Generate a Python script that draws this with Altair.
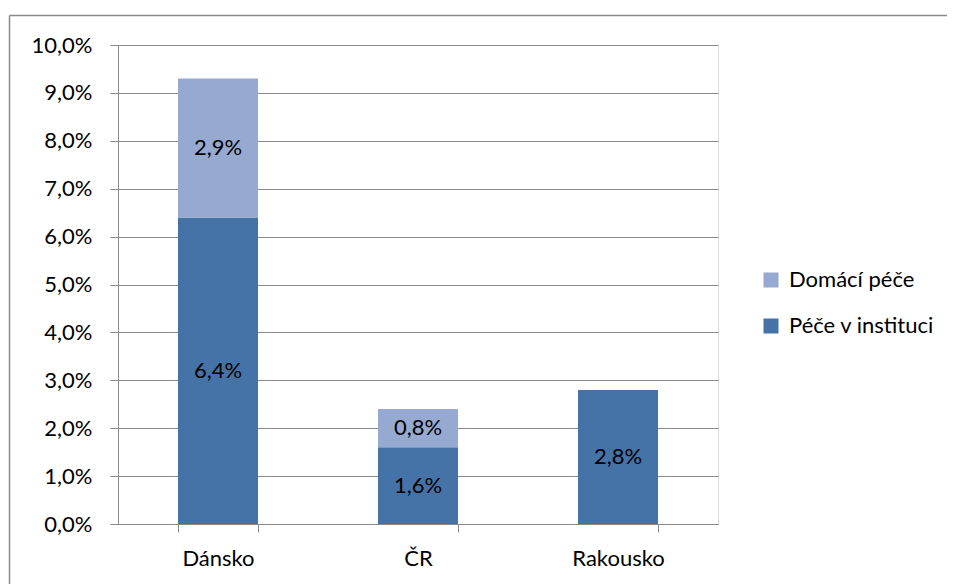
import altair as alt
import pandas as pd

zeme = ["Dánsko", "ČR", "Rakousko"]
pece_v_instituci = [0.064, 0.016, 0.028]
domaci_pece = [0.029, 0.008, None]
serie = ["Domácí péče", "Péče v instituci"]
barvy = ["#95A9D1", "#4572A7"]
y_ticks = [0.0, 0.01, 0.02, 0.03, 0.04, 0.05, 0.06, 0.07, 0.08, 0.09, 0.10]

rows = []
for z, a, b in zip(zeme, pece_v_instituci, domaci_pece):
    rows.append({"zeme": z, "serie": "Péče v instituci", "hodnota": a, "poradi": 0})
    if b is not None:
        rows.append({"zeme": z, "serie": "Domácí péče", "hodnota": b, "poradi": 1})
df = pd.DataFrame(rows)

FONT = "Lato"
GRAY = "#8A8A8A"

x_enc = alt.X(
    "zeme:N",
    sort=zeme,
    title=None,
    scale=alt.Scale(paddingInner=0.6, paddingOuter=0.3),
    axis=alt.Axis(
        labelAngle=0, tickBand="extent", tickSize=8, tickColor=GRAY,
        domainColor=GRAY, labelFont=FONT, labelFontSize=22, labelColor="black",
        labelPadding=16, grid=False,
    ),
)

bars = alt.Chart(df).mark_bar().encode(
    x=x_enc,
    y=alt.Y(
        "hodnota:Q",
        stack="zero",
        title=None,
        scale=alt.Scale(domain=[0, 0.1], nice=False),
        axis=alt.Axis(
            values=y_ticks, labelExpr="replace(format(datum.value, '.1%'), '.', ',')",
            tickSize=8, tickColor=GRAY, domainColor=GRAY, gridColor=GRAY,
            labelFont=FONT, labelFontSize=22, labelColor="black", labelPadding=18,
        ),
    ),
    color=alt.Color(
        "serie:N",
        scale=alt.Scale(domain=serie, range=barvy),
        legend=alt.Legend(
            title=None, orient="none", legendX=642, legendY=224, padding=0,
            symbolType="square", symbolSize=225, symbolStrokeWidth=0,
            labelFont=FONT, labelFontSize=22, labelColor="black",
            rowPadding=24, labelOffset=7,
        ),
    ),
    order=alt.Order("poradi:Q"),
)

labels = alt.Chart(df).transform_stack(
    stack="hodnota", groupby=["zeme"], as_=["y0", "y1"],
    sort=[alt.SortField("poradi", order="ascending")],
).transform_calculate(
    mid="(datum.y0 + datum.y1) / 2",
    txt="replace(format(datum.hodnota, '.1%'), '.', ',')",
).mark_text(font=FONT, fontSize=22, color="black", baseline="middle").encode(
    x=alt.X("zeme:N", sort=zeme),
    y=alt.Y("mid:Q"),
    text="txt:N",
)

frame = pd.DataFrame({"a": [0]})
border_top = alt.Chart(frame).mark_rule(stroke=GRAY, strokeWidth=1.5).encode(
    x=alt.value(-108.5), x2=alt.value(829), y=alt.value(-29.5)
)
border_left = alt.Chart(frame).mark_rule(stroke=GRAY, strokeWidth=1.5).encode(
    x=alt.value(-108.5), y=alt.value(-29.5), y2=alt.value(700)
)

chart = alt.layer(border_top, border_left, bars, labels).properties(
    width=600, height=479,
    autosize=alt.AutoSizeParams(type="none"),
    padding={"left": 110, "top": 37, "right": 229, "bottom": 60},
).configure_view(stroke=None).configure(background="white")

chart.save("out.html", embed_options={"renderer": "svg", "actions": False})
